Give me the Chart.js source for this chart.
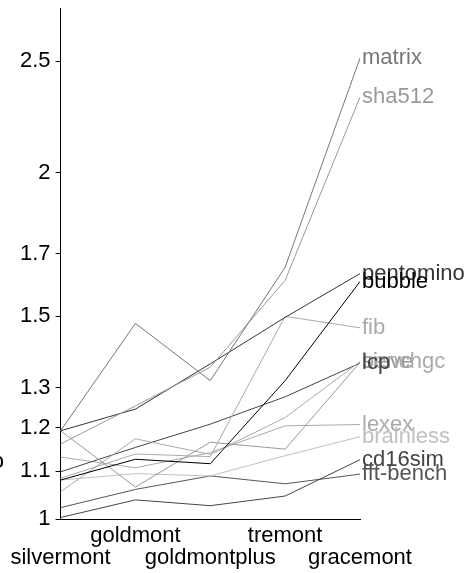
<!DOCTYPE html>
<html>
<head>
<meta charset="utf-8">
<script src="https://cdn.jsdelivr.net/npm/chart.js@4.4.1/dist/chart.umd.min.js"></script>
<style>
  body { margin: 0; background: #fff; }
  canvas { display: block; }
</style>
</head>
<body>
<canvas id="slopeChart" width="475" height="573"></canvas>
<script>
// categories (x axis)
const cpus = ['silvermont', 'goldmont', 'goldmontplus', 'tremont', 'gracemont'];

// y ticks (log scale)
const yTicks = [1, 1.1, 1.2, 1.3, 1.5, 1.7, 2, 2.5];

// series values
const matrix    = [1.193, 1.479, 1.319, 1.655, 2.515];
const sha512    = [1.162, 1.254, 1.355, 1.612, 2.326];
const pentomino = [1.193, 1.246, 1.364, 1.497, 1.634];
const bubble    = [1.081, 1.127, 1.117, 1.319, 1.608];
const fib       = [1.085, 1.139, 1.133, 1.500, 1.466];
const sieve     = [1.193, 1.066, 1.166, 1.150, 1.368];
const benchgc   = [1.056, 1.174, 1.138, 1.225, 1.370];
const lcp       = [1.099, 1.154, 1.209, 1.277, 1.366];
const lexex     = [1.132, 1.108, 1.142, 1.205, 1.208];
const brainless = [1.081, 1.095, 1.090, 1.135, 1.179];
const cd16sim   = [1.003, 1.039, 1.027, 1.047, 1.126];
const fftBench  = [1.023, 1.061, 1.090, 1.073, 1.094];

const names  = ['matrix', 'sha512', 'pentomino', 'bubble', 'fib', 'sieve', 'benchgc', 'lcp', 'lexex', 'brainless', 'cd16sim', 'fft-bench'];
const series = [matrix, sha512, pentomino, bubble, fib, sieve, benchgc, lcp, lexex, brainless, cd16sim, fftBench];
const greys  = ['#777', '#999', '#333', '#000', '#aaa', '#999', '#aaa', '#444', '#aaa', '#c0c0c0', '#444', '#555'];

const FONT = 'Liberation Sans, Arial, sans-serif';
Chart.defaults.font.family = FONT;
Chart.defaults.font.size = 22;
Chart.defaults.color = '#000';

// end-of-line labels + cut-off axis title on the left
const endLabels = {
    id: 'endLabels',
    afterDatasetsDraw(chart) {
        const ctx = chart.ctx;
        ctx.save();
        ctx.font = '22px ' + FONT;
        ctx.textBaseline = 'middle';
        ctx.textAlign = 'left';
        chart.data.datasets.forEach((ds, i) => {
            const meta = chart.getDatasetMeta(i);
            const pt = meta.data[meta.data.length - 1];
            ctx.fillStyle = ds.borderColor;
            ctx.fillText(ds.label, pt.x + 2, pt.y);
        });
        ctx.fillStyle = '#000';
        ctx.textAlign = 'right';
        ctx.fillText('ratio', 4, 462);
        ctx.restore();
    }
};

new Chart(document.getElementById('slopeChart'), {
    type: 'line',
    data: {
        labels: cpus,
        datasets: series.map((vals, i) => ({
            label: names[i],
            data: vals,
            borderColor: greys[i],
            borderWidth: 1,
            pointRadius: 0,
            tension: 0,
            fill: false
        }))
    },
    options: {
        responsive: false,
        animation: false,
        layout: { padding: { left: 15, right: 115, top: 8, bottom: -2 } },
        plugins: { legend: { display: false }, tooltip: { enabled: false } },
        scales: {
            x: {
                type: 'category',
                offset: false,
                grid: { display: false, drawTicks: false },
                border: { display: true, color: '#000', width: 1 },
                ticks: {
                    autoSkip: false,
                    maxRotation: 0,
                    padding: 6,
                    font: { size: 22, lineHeight: 1.0 },
                    callback: (v, i) => i % 2 ? [cpus[i], ''] : ['', cpus[i]]
                }
            },
            y: {
                type: 'logarithmic',
                min: 1,
                max: 2.78,
                afterBuildTicks: (scale) => { scale.ticks = yTicks.map(v => ({ value: v })); },
                grid: { display: true, drawOnChartArea: false, drawTicks: true, tickLength: 5, color: '#000' },
                border: { display: true, color: '#000', width: 1 },
                ticks: { padding: 5, font: { size: 22, lineHeight: 0.1 }, callback: (v) => String(v) }
            }
        }
    },
    plugins: [endLabels]
});
</script>
</body>
</html>
